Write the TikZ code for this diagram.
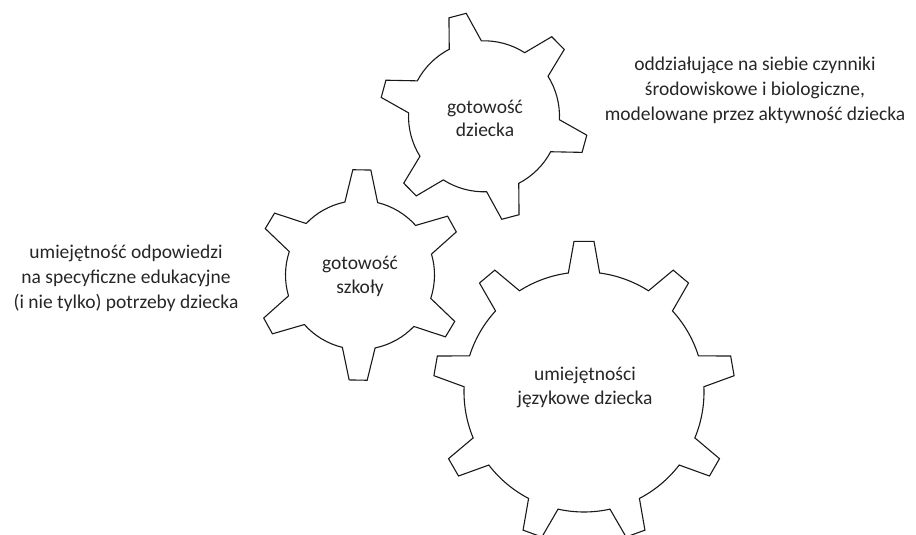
\documentclass[tikz,border=0pt]{standalone}
\usepackage{fontspec}
\setmainfont{Carlito}
\tikzset{
  gear/.style={draw=black!90, line width=1.1pt, line join=miter},
  inlbl/.style={align=center, text=black!85, font=\fontsize{19.5}{23.5}\selectfont, inner sep=0pt},
  sidelbl/.style={align=center, text=black!85, font=\fontsize{19.5}{25}\selectfont, inner sep=0pt}
}
% #1 centre, #2 list of tooth angles, #3 step, #4 tip radius, #5 root radius, #6 root half angle, #7 tip half angle
\newcommand{\mygear}[7]{%
  \draw[gear, shift={#1}] ({\firstang-#6}:#5pt)
    \foreach \t in {#2} {
      -- ({\t-#6}:#5pt) -- ({\t-#7}:#4pt) -- ({\t+#7}:#4pt) -- ({\t+#6}:#5pt)
      arc[start angle={\t+#6}, end angle={\t+#3-#6}, radius=#5pt]
    } -- cycle;
}
\begin{document}
\begin{tikzpicture}[x=1pt,y=1pt]
\useasboundingbox (0,0) rectangle (916,535);
% gear 1 : gotowość dziecka
\def\firstang{104.7}
\mygear{(484,418.7)}{104.7,164.7,224.7,284.7,344.7,404.7}{60}{104.5}{75.5}{12.7}{4.9}
% gear 2 : gotowość szkoły
\def\firstang{89}
\mygear{(360,260)}{89,149,209,269,329,389}{60}{105.5}{74.5}{12.7}{4.9}
% gear 3 : umiejętności językowe dziecka
\def\firstang{90}
\mygear{(584,143)}{90,130,170,210,250,290,330,370,410}{40}{151}{120}{7.5}{3.8}

\node[inlbl] (g1) at (485,416.5) {gotowość\\dziecka};
\node[inlbl] (g2) at (360,258.5) {gotowość\\szkoły};
\node[inlbl] (g3) at (585,147.5) {umiejętności\\językowe dziecka};
\node[sidelbl] (t1) at (755,445) {oddziałujące na siebie czynniki\\środowiskowe i biologiczne,\\modelowane przez aktywność dziecka};
\node[sidelbl] (t2) at (126,257) {umiejętność odpowiedzi\\na specyficzne edukacyjne\\(i nie tylko) potrzeby dziecka};
\end{tikzpicture}
\end{document}
